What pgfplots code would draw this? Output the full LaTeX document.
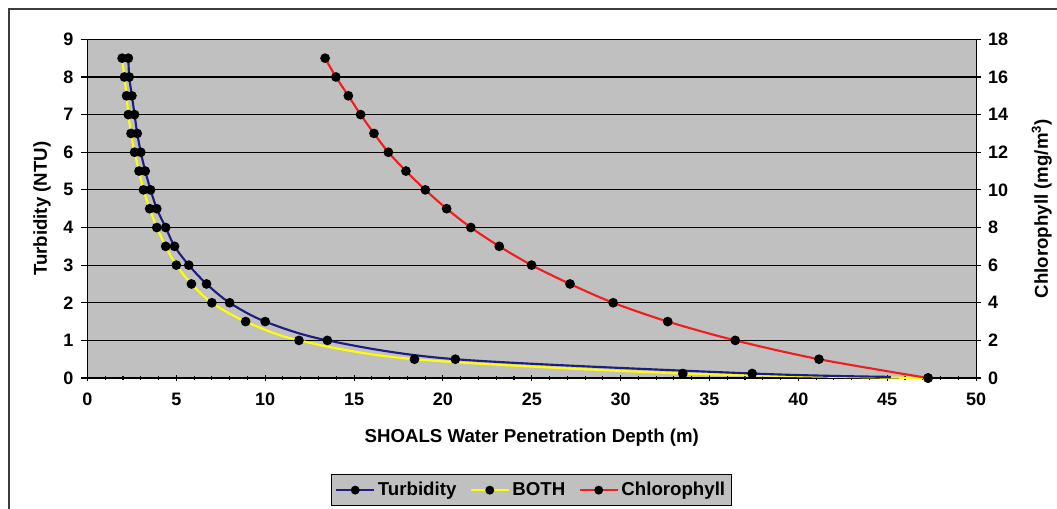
\documentclass[border=0pt]{standalone}
\usepackage{fontspec}
\setmainfont{Liberation Sans}
\usepackage{pgfplots}
\pgfplotsset{compat=1.18}
\definecolor{plotbg}{RGB}{192,192,192}
\definecolor{turb}{RGB}{30,30,128}
\definecolor{both}{RGB}{255,255,0}
\definecolor{chl}{RGB}{240,30,30}
\definecolor{frame}{RGB}{60,60,60}
\begin{document}
\begin{tikzpicture}
\path[use as bounding box] (-65.6pt,-97.5pt) rectangle (727.1pt,283.5pt);
\draw[frame, line width=1.1pt] (-58.9pt,-98pt) -- (-58.9pt,276.75pt) -- (728pt,276.75pt);
\begin{axis}[
  at={(0pt,0pt)}, anchor=south west,
  scale only axis, width=666.4pt, height=254pt,
  xmin=0, xmax=50, ymin=0, ymax=9,
  axis background/.style={fill=plotbg},
  axis x line*=bottom, axis y line*=left,
  axis line style={black, line width=0.8pt},
  xtick={0,5,...,50}, minor x tick num=4,
  ytick={0,1,...,9},
  ymajorgrids, major grid style={black, line width=0.8pt},
  tick style={black, line width=0.8pt},
  major tick length=5pt, minor tick length=3pt,
  xtick align=center, ytick align=outside,
  /pgf/number format/assume math mode=true,
  ticklabel style={font=\fontsize{13.5}{15}\selectfont\bfseries},
  xticklabel style={yshift=-5pt},
  yticklabel style={xshift=-2pt},
  xlabel={SHOALS Water Penetration Depth (m)},
  ylabel={Turbidity (NTU)},
  label style={font=\fontsize{14}{16}\selectfont\bfseries},
  xlabel style={at={(axis description cs:0.5,-0.177)}, anchor=center},
  ylabel style={at={(axis description cs:-0.0512,0.5)}, anchor=center},
  clip=false,
]
\addplot[both, line width=1.6pt, smooth, mark=*, mark size=2.8pt,
  mark options={fill=black, draw=black}] coordinates {
(1.95,8.5)(2.08,8)(2.2,7.5)(2.3,7)(2.45,6.5)(2.65,6)(2.9,5.5)(3.15,5)(3.5,4.5)(3.9,4)(4.4,3.5)(5.0,3)(5.85,2.5)(7.0,2)(8.9,1.5)(11.9,1)(18.4,0.5)(33.5,0.12)(47.3,0)
};
\addplot[turb, line width=1.6pt, smooth, mark=*, mark size=2.8pt, mark indices={1,...,18},
  mark options={fill=black, draw=black}] coordinates {
(2.3,8.5)(2.35,8)(2.5,7.5)(2.65,7)(2.8,6.5)(3.0,6)(3.25,5.5)(3.55,5)(3.9,4.5)(4.4,4)(4.9,3.5)(5.7,3)(6.7,2.5)(8.0,2)(10.0,1.5)(13.5,1)(20.7,0.5)(37.4,0.12)(45.2,0.03)
};
\end{axis}
\begin{axis}[
  at={(0pt,0pt)}, anchor=south west,
  scale only axis, width=666.4pt, height=254pt,
  xmin=0, xmax=50, ymin=0, ymax=18,
  axis x line=none, axis y line*=right,
  axis line style={black, line width=0.8pt},
  ytick={0,2,...,18},
  tick style={black, line width=0.8pt},
  major tick length=7pt, ytick align=center,
  /pgf/number format/assume math mode=true,
  ticklabel style={font=\fontsize{13.5}{15}\selectfont\bfseries},
  yticklabel style={xshift=2pt},
  ylabel={Chlorophyll (mg/m\textsuperscript{3})},
  ylabel style={font=\fontsize{14}{16}\selectfont\bfseries, at={(axis description cs:1.074,0.5)}, anchor=center, rotate=0},
  legend style={at={(0.4997,-0.331)}, anchor=center, legend columns=3,
    fill=plotbg, draw=black, line width=0.8pt,
    font=\fontsize{14}{16}\selectfont\bfseries,
    /tikz/every even column/.append style={column sep=8pt},
    inner xsep=3pt, inner ysep=4pt},
  legend image code/.code={\draw[mark repeat=2, mark phase=2, #1] plot coordinates {(0cm,0cm) (0.5cm,0cm) (1cm,0cm)};},
  legend image post style={mark size=2.5pt},
  clip=false,
]
\addlegendimage{turb, line width=1.6pt, mark=*, mark options={fill=black, draw=black}}
\addlegendentry{Turbidity}
\addlegendimage{both, line width=1.6pt, mark=*, mark options={fill=black, draw=black}}
\addlegendentry{BOTH}
\addplot[chl, line width=1.6pt, smooth, mark=*, mark size=2.8pt,
  mark options={fill=black, draw=black}] coordinates {
(13.37,17)(13.98,16)(14.68,15)(15.37,14)(16.12,13)(16.93,12)(17.92,11)(19.01,10)(20.21,9)(21.57,8)(23.17,7)(24.99,6)(27.15,5)(29.58,4)(32.65,3)(36.45,2)(41.16,1)(47.3,0)
};
\addlegendentry{Chlorophyll}
\end{axis}
\end{tikzpicture}
\end{document}
